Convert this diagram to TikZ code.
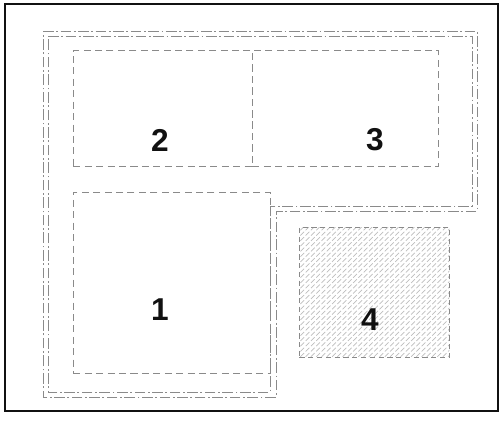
\documentclass[tikz,border=0pt]{standalone}
\usepackage{fontspec}
\setmainfont{Liberation Sans}
\usetikzlibrary{patterns,positioning}
\definecolor{ink}{HTML}{111111}
\definecolor{wall}{HTML}{8A8A8A}
\definecolor{hatch}{HTML}{BDBDBD}

\begin{document}
\begin{tikzpicture}[x=0.02cm,y=-0.02cm,
  wallline/.style={draw=wall,line width=0.5pt,dash pattern=on 6pt off 1.5pt on 1pt off 1.5pt},
  roombox/.style={draw=wall,line width=0.45pt,dash pattern=on 4pt off 2.5pt,minimum width=#1},
  num/.style={text=ink,font=\fontsize{18}{20}\selectfont\bfseries,inner sep=0pt}]
\useasboundingbox (0,0) rectangle (500,420);
% frame
\draw[ink,line width=1.4pt] (5,4) rectangle (498,411);
% double outline of the L
\draw[wallline] (43,31) -- (477,31) -- (477,211) -- (276,211) -- (276,397) -- (43,397) -- cycle;
\draw[wallline] (48,36) -- (472,36) -- (472,206) -- (270,206) -- (270,392) -- (48,392) -- cycle;
% rooms
\node[roombox=179*0.02cm,minimum height=116*0.02cm,anchor=north west] (room2) at (73,50) {};
\node[roombox=186*0.02cm,minimum height=116*0.02cm,anchor=north west] (room3) at (252,50) {};
\node[roombox=197*0.02cm,minimum height=181*0.02cm,anchor=north west] (room1) at (73,192) {};
\node[draw=wall,line width=0.5pt,densely dashed,pattern=north east lines,pattern color=hatch,
      minimum width=150*0.02cm,minimum height=130*0.02cm,anchor=north west] (room4) at (299,227) {};
% numbers
\node[num] (n2) at (160,140) {2};
\node[num] (n3) at (375,140) {3};
\node[num] (n1) at (160,310) {1};
\node[num] (n4) at (370,320) {4};
\end{tikzpicture}
\end{document}
